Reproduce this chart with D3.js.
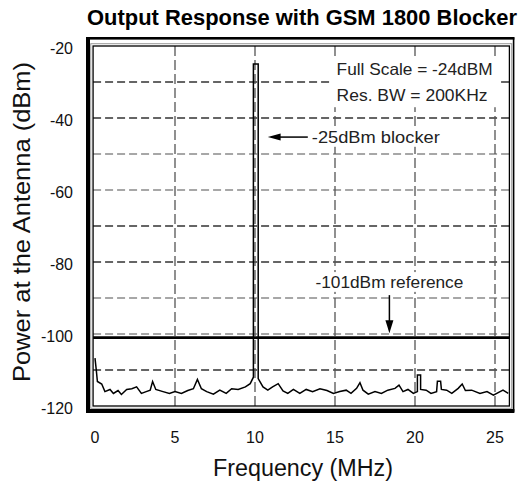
<!DOCTYPE html>
<html><head><meta charset="utf-8">
<script src="https://cdn.jsdelivr.net/npm/d3@7"></script>
<style>body{margin:0;background:#fff}svg{display:block}text{font-family:"Liberation Sans",Arial,Helvetica,sans-serif}</style>
</head><body><svg id="c" width="520" height="483"></svg>
<script>
const title = "Output Response with GSM 1800 Blocker";
const xLabel = "Frequency (MHz)";
const yLabel = "Power at the Antenna (dBm)";
const xTicks = [0, 5, 10, 15, 20, 25];
const yTicks = [-20, -40, -60, -80, -100, -120];
const xGrid = [5, 10, 15, 20, 25];
const yGrid = [-30, -40, -50, -60, -70, -80, -90, -100, -110];
const freqMHz = [0,0.08,0.15,0.42,0.62,0.94,1.15,1.44,1.65,1.98,2.3,2.6,2.9,3.2,3.45,3.6,3.8,4.25,4.65,5.0,5.4,5.8,6.15,6.4,6.65,6.98,7.4,7.8,8.2,8.54,8.95,9.4,9.7,9.9,9.9,10.2,10.2,10.5,10.8,11.1,11.45,11.75,12.05,12.4,12.8,13.2,13.6,14.06,14.5,14.9,15.3,15.7,16.0,16.35,16.56,16.75,17.08,17.5,17.9,18.3,18.75,19.0,19.25,19.56,19.9,20.15,20.15,20.35,20.35,20.7,21.0,21.35,21.4,21.6,21.65,21.98,22.3,22.7,22.95,23.15,23.54,24.06,24.5,24.9,25.2,25.5,25.83];
const powerDBm = [-106.7,-110,-113.2,-113.9,-116.0,-115.4,-116.5,-115.7,-116.8,-115.4,-115.2,-114.7,-116.5,-116.0,-115.6,-113.2,-115.4,-116.0,-116.5,-116.0,-116.5,-115.7,-115.2,-112.6,-115.2,-116.0,-116.7,-115.6,-116.5,-115.2,-115.4,-114.7,-113.8,-112.0,-25,-25,-112.4,-114.7,-115.6,-114.7,-113.8,-115.8,-116.5,-115.4,-116.5,-115.4,-116.0,-115.2,-115.7,-116.5,-116.0,-115.6,-116.5,-115.1,-113.5,-115.6,-116.7,-116.0,-116.5,-115.6,-115.1,-114.2,-116.0,-115.4,-116.5,-116.0,-111.4,-111.4,-115.4,-115.6,-116.5,-116.0,-113.1,-113.1,-115.4,-115.6,-116.5,-115.1,-113.9,-115.7,-115.6,-116.5,-116.0,-117.0,-116.3,-115.6,-116.5];
const referenceLevel = -101;
const notes = ["Full Scale = -24dBM", "Res. BW = 200KHz"];
const blockerNote = "-25dBm blocker";
const referenceNote = "-101dBm reference";

const svg = d3.select("#c");
const x = d3.scaleLinear().domain([0, 25]).range([95, 495]);
const y = d3.scaleLinear().domain([-20, -120]).range([46, 406]);
const xL = x(-0.12), xR = x(25.9), yT = y(-20), yB = y(-120);

// grid
svg.append("g").selectAll("line").data(yGrid).join("line")
  .attr("x1", xL).attr("x2", xR).attr("y1", d => y(d)).attr("y2", d => y(d))
  .attr("stroke", d => [-50,-60,-90,-100].includes(d) ? "#8a8a8a" : "#333")
  .attr("stroke-width", 1.3).attr("stroke-dasharray", "8,4");
svg.append("g").selectAll("line").data(xGrid).join("line")
  .attr("x1", d => x(d)).attr("x2", d => x(d)).attr("y1", yT).attr("y2", yB)
  .attr("stroke", "#555").attr("stroke-width", 1.3).attr("stroke-dasharray", "10,4");

// annotation boxes
svg.append("rect").attr("x", x(14.8)).attr("y", y(-23)).attr("width", x(25.3)-x(14.8)).attr("height", y(-37)-y(-23)).attr("fill", "#fff");
svg.append("rect").attr("x", x(13.4)).attr("y", y(-42.6)).attr("width", x(21.6)-x(13.4)).attr("height", y(-48)-y(-42.6)).attr("fill", "#fff");
svg.append("rect").attr("x", x(13.6)).attr("y", y(-82.8)).attr("width", x(23.2)-x(13.6)).attr("height", y(-88.3)-y(-82.8)).attr("fill", "#fff");

// reference line
svg.append("line").attr("x1", xL).attr("x2", xR).attr("y1", y(referenceLevel)).attr("y2", y(referenceLevel))
  .attr("stroke", "#000").attr("stroke-width", 2.6);

// trace
const line = d3.line().x((d, i) => x(freqMHz[i])).y(d => y(d));
svg.append("path").datum(powerDBm).attr("d", line).attr("fill", "none")
  .attr("stroke", "#000").attr("stroke-width", 1.5).attr("stroke-linejoin", "miter");

// frames
svg.append("rect").attr("x", xL).attr("y", yT).attr("width", xR-xL).attr("height", yB-yT)
  .attr("fill", "none").attr("stroke", "#000").attr("stroke-width", 1.3);
svg.append("rect").attr("x", xL-2.3).attr("y", yT-2.3).attr("width", xR-xL+4.6).attr("height", yB-yT+4.6)
  .attr("fill", "none").attr("stroke", "#999").attr("stroke-width", 1);
svg.append("rect").attr("x", 87.5).attr("y", 38.2).attr("width", 513.6-87.5).attr("height", 411-38.2)
  .attr("fill", "none").attr("stroke", "#000").attr("stroke-width", 1.6);
svg.append("rect").attr("x", 86).attr("y", 37).attr("width", 4).attr("height", 376).attr("fill", "#000");
svg.append("rect").attr("x", 86).attr("y", 409).attr("width", 428.4).attr("height", 4).attr("fill", "#000");
svg.append("rect").attr("x", 86).attr("y", 37).attr("width", 428.4).attr("height", 2.6).attr("fill", "#000");

// texts
svg.append("text").attr("x", 302).attr("y", 25).attr("text-anchor", "middle")
  .attr("font-size", 21.5).attr("font-weight", "bold").attr("textLength", 430).attr("lengthAdjust", "spacingAndGlyphs").text(title);
svg.append("g").selectAll("text").data(yTicks).join("text")
  .attr("x", 73).attr("y", d => y(d) + 7.5).attr("text-anchor", "end").attr("font-size", 16).attr("fill", "#111").text(d => d);
svg.append("g").selectAll("text").data(xTicks).join("text")
  .attr("x", d => x(d)).attr("y", 443).attr("text-anchor", "middle").attr("font-size", 16).attr("fill", "#111").text(d => d);
svg.append("text").attr("x", 303).attr("y", 476).attr("text-anchor", "middle").attr("font-size", 23)
  .attr("textLength", 180).attr("lengthAdjust", "spacingAndGlyphs").attr("fill", "#111").text(xLabel);
svg.append("text").attr("transform", "translate(30,222) rotate(-90)").attr("text-anchor", "middle").attr("font-size", 24)
  .attr("textLength", 320).attr("lengthAdjust", "spacingAndGlyphs").attr("fill", "#111").text(yLabel);

svg.append("text").attr("x", x(15.1)).attr("y", y(-26.4) + 6).attr("font-size", 16.5).attr("fill", "#222")
  .attr("textLength", 156).attr("lengthAdjust", "spacingAndGlyphs").text(notes[0]);
svg.append("text").attr("x", x(15.1)).attr("y", y(-33.6) + 6).attr("font-size", 16.5).attr("fill", "#222")
  .attr("textLength", 151).attr("lengthAdjust", "spacingAndGlyphs").text(notes[1]);
svg.append("text").attr("x", x(13.55)).attr("y", y(-45.3) + 6).attr("font-size", 16.5).attr("fill", "#222")
  .attr("textLength", 128).attr("lengthAdjust", "spacingAndGlyphs").text(blockerNote);
svg.append("text").attr("x", x(18.4)).attr("y", y(-85.6) + 6).attr("text-anchor", "middle").attr("font-size", 16.5).attr("fill", "#222")
  .attr("textLength", 148).attr("lengthAdjust", "spacingAndGlyphs").text(referenceNote);

// arrows
svg.append("line").attr("x1", x(13.3)).attr("x2", x(11.4)).attr("y1", y(-45.3)).attr("y2", y(-45.3)).attr("stroke", "#000").attr("stroke-width", 1.5);
svg.append("path").attr("d", `M${x(10.8)},${y(-45.3)} L${x(11.6)},${y(-45.3)-3.5} L${x(11.6)},${y(-45.3)+3.5} Z`).attr("fill", "#000");
svg.append("line").attr("x1", x(18.4)).attr("x2", x(18.4)).attr("y1", y(-89.2)).attr("y2", y(-96.5)).attr("stroke", "#000").attr("stroke-width", 1.5);
svg.append("path").attr("d", `M${x(18.4)},${y(-99.8)} L${x(18.4)-4},${y(-96.2)} L${x(18.4)+4},${y(-96.2)} Z`).attr("fill", "#000");
</script></body></html>
